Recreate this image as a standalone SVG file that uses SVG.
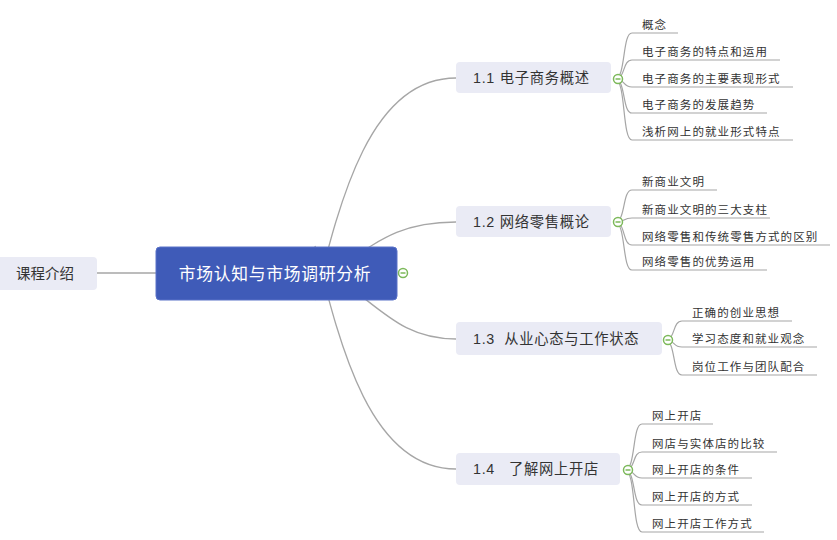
<svg xmlns="http://www.w3.org/2000/svg" width="837" height="540" viewBox="0 0 837 540">
<style>
.bg{fill:#ffffff}
.ln{fill:none;stroke:#a6a6a6;stroke-width:1.3}
.ul{fill:none;stroke:#a6a6a6;stroke-width:1.2}
.br{fill:#eaebf5}
.rt{fill:#3f5bb8;stroke:#5a72c8;stroke-width:1}
.t{font-family:"Liberation Sans","Noto Sans CJK SC",sans-serif;fill:#333333}
.leaf{font-size:11.5px;letter-spacing:1.1px}
.bt{font-size:14.3px;letter-spacing:0.7px;white-space:pre}
.rtt{font-family:"Liberation Sans","Noto Sans CJK SC",sans-serif;fill:#ffffff;font-size:16.8px;letter-spacing:0.7px}
.cc{fill:#ffffff;stroke:#7cb95a;stroke-width:1.5}
.cm{stroke:#7cb95a;stroke-width:1.5}
</style>
<rect class="bg" x="0" y="0" width="837" height="540"/>
<g id="connectors">
  <path class="ln" d="M97 273 H160"/>
  <path class="ln" d="M315 300 C340 200 370 78 456 78"/>
  <path class="ln" d="M330 273 C380 240 400 222 456 222"/>
  <path class="ln" d="M330 273 C380 306 400 339 456 339"/>
  <path class="ln" d="M315 246 C340 346 370 469 456 469"/>
  <path class="ul" d="M615 79 C626 79 622 33 632 33 H678"/>
  <path class="ul" d="M615 79 C626 79 622 60 632 60 H780"/>
  <path class="ul" d="M615 79 C626 79 622 87 632 87 H793"/>
  <path class="ul" d="M615 79 C626 79 622 113 632 113 H767"/>
  <path class="ul" d="M615 79 C626 79 622 140 632 140 H793"/>
  <path class="ul" d="M615 222 C626 222 622 190 632 190 H717"/>
  <path class="ul" d="M615 222 C626 222 622 218 632 218 H770"/>
  <path class="ul" d="M615 222 C626 222 622 245 632 245 H830"/>
  <path class="ul" d="M615 222 C626 222 622 270 632 270 H767"/>
  <path class="ul" d="M665 340 C676 340 672 321 682 321 H792"/>
  <path class="ul" d="M665 340 C676 340 672 347 682 347 H817"/>
  <path class="ul" d="M665 340 C676 340 672 375 682 375 H817"/>
  <path class="ul" d="M625 470 C636 470 632 424 642 424 H713"/>
  <path class="ul" d="M625 470 C636 470 632 452 642 452 H777"/>
  <path class="ul" d="M625 470 C636 470 632 478 642 478 H752"/>
  <path class="ul" d="M625 470 C636 470 632 505 642 505 H752"/>
  <path class="ul" d="M625 470 C636 470 632 532 642 532 H764"/>
</g>
<g id="n-intro">
  <rect class="br" x="-4" y="257" width="101" height="33" rx="4"/>
  <text class="t" x="45" y="278.5" font-size="14.5" text-anchor="middle">课程介绍</text>
</g>
<g id="n-root">
  <rect class="rt" x="156" y="247" width="241" height="53" rx="4"/>
  <text class="rtt" x="275" y="280" text-anchor="middle">市场认知与市场调研分析</text>
  <circle class="cc" cx="403" cy="273" r="4.5"/>
  <line class="cm" x1="400.5" y1="273" x2="405.5" y2="273"/>
</g>
<g id="n-1-1">
  <rect class="br" x="456" y="62" width="155" height="31" rx="4"/>
  <text class="t bt" x="473" y="83">1.1 电子商务概述</text>
  <circle class="cc" cx="618" cy="79" r="4.5"/>
  <line class="cm" x1="615.5" y1="79" x2="620.5" y2="79"/>
</g>
<g id="n-1-2">
  <rect class="br" x="456" y="206" width="155" height="31" rx="4"/>
  <text class="t bt" x="473" y="227">1.2 网络零售概论</text>
  <circle class="cc" cx="618" cy="222" r="4.5"/>
  <line class="cm" x1="615.5" y1="222" x2="620.5" y2="222"/>
</g>
<g id="n-1-3">
  <rect class="br" x="456" y="322" width="206" height="33" rx="4"/>
  <text class="t bt" x="473" y="344">1.3  从业心态与工作状态</text>
  <circle class="cc" cx="668" cy="340" r="4.5"/>
  <line class="cm" x1="665.5" y1="340" x2="670.5" y2="340"/>
</g>
<g id="n-1-4">
  <rect class="br" x="456" y="453" width="164" height="32" rx="4"/>
  <text class="t bt" x="473" y="474">1.4   了解网上开店</text>
  <circle class="cc" cx="628" cy="470" r="4.5"/>
  <line class="cm" x1="625.5" y1="470" x2="630.5" y2="470"/>
</g>
<g id="leaves-1-1">
  <text class="t leaf" x="642" y="29">概念</text>
  <text class="t leaf" x="642" y="56">电子商务的特点和运用</text>
  <text class="t leaf" x="642" y="83">电子商务的主要表现形式</text>
  <text class="t leaf" x="642" y="109">电子商务的发展趋势</text>
  <text class="t leaf" x="642" y="136">浅析网上的就业形式特点</text>
</g>
<g id="leaves-1-2">
  <text class="t leaf" x="642" y="186">新商业文明</text>
  <text class="t leaf" x="642" y="214">新商业文明的三大支柱</text>
  <text class="t leaf" x="642" y="241">网络零售和传统零售方式的区别</text>
  <text class="t leaf" x="642" y="266">网络零售的优势运用</text>
</g>
<g id="leaves-1-3">
  <text class="t leaf" x="692" y="317">正确的创业思想</text>
  <text class="t leaf" x="692" y="343">学习态度和就业观念</text>
  <text class="t leaf" x="692" y="371">岗位工作与团队配合</text>
</g>
<g id="leaves-1-4">
  <text class="t leaf" x="652" y="420">网上开店</text>
  <text class="t leaf" x="652" y="448">网店与实体店的比较</text>
  <text class="t leaf" x="652" y="474">网上开店的条件</text>
  <text class="t leaf" x="652" y="501">网上开店的方式</text>
  <text class="t leaf" x="652" y="528">网上开店工作方式</text>
</g>
</svg>
